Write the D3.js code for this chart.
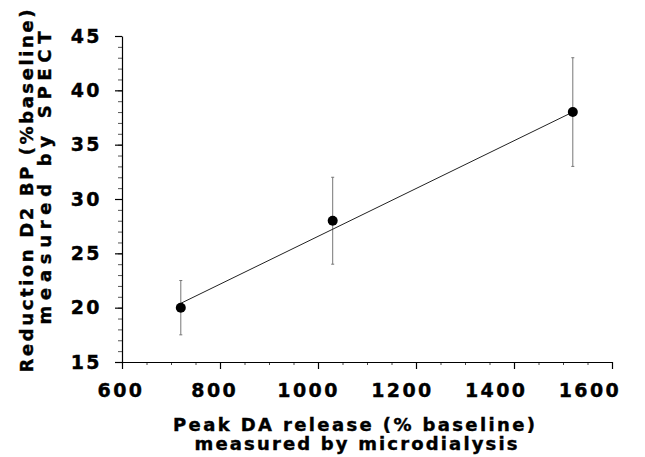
<!DOCTYPE html>
<html>
<head>
<meta charset="utf-8">
<script src="https://d3js.org/d3.v7.min.js"></script>
<style>
  body { margin: 0; background: #fff; }
  svg text { font-family: "DejaVu Sans", "Liberation Sans", Arial, sans-serif; font-weight: bold; fill: #000; stroke: #000; stroke-width: 0.4px; }
</style>
</head>
<body>
<svg id="chart" width="645" height="457"></svg>
<script>
// data
var daRelease = [720, 1030, 1520];
var bpReduction = [20, 28, 38];
var errHigh = [22.5, 32, 43];
var errLow = [17.5, 24, 33];
// regression line end points
var fitX = [720, 1520];
var fitY = [20.4, 38.0];

var xTicks = [600, 800, 1000, 1200, 1400, 1600];
var yTicks = [15, 20, 25, 30, 35, 40, 45];

var svg = d3.select('#chart');

var x = d3.scaleLinear().domain([600, 1600]).range([122, 612]);
var y = d3.scaleLinear().domain([15, 45]).range([362, 36]);
// tick labels in the scan sit a bit left of their ticks
var xLab = d3.scaleLinear().domain([600, 1600]).range([121, 590]);

// x axis: minor every 50, major every 200
svg.append('g')
    .attr('transform', 'translate(0,362)')
    .call(d3.axisBottom(x).tickValues(d3.range(600, 1601, 50)).tickSize(3).tickFormat(''))
    .call(g => g.select('.domain').remove())
    .call(g => g.selectAll('line').attr('stroke', '#444'));
svg.append('g')
    .attr('transform', 'translate(0,362)')
    .call(d3.axisBottom(x).tickValues(xTicks).tickSize(7).tickSizeOuter(0).tickFormat(''))
    .call(g => g.selectAll('line, path').attr('stroke', '#000').attr('stroke-width', 1.2));

svg.append('g').selectAll('text')
    .data(xTicks)
    .join('text')
    .attr('x', d => xLab(d))
    .attr('y', 397)
    .attr('text-anchor', 'middle')
    .style('font-size', '19px')
    .style('letter-spacing', '2.4px')
    .text(d => d);

// y axis: minor every 1, major every 5
svg.append('g')
    .attr('transform', 'translate(122,0)')
    .call(d3.axisLeft(y).tickValues(d3.range(15, 46, 1)).tickSize(4).tickFormat(''))
    .call(g => g.select('.domain').remove())
    .call(g => g.selectAll('line').attr('stroke', '#555'));
svg.append('g')
    .attr('transform', 'translate(122,0)')
    .call(d3.axisLeft(y).tickValues(yTicks).tickSize(7).tickSizeOuter(0).tickPadding(13))
    .call(g => g.selectAll('line, path').attr('stroke', '#000').attr('stroke-width', 1.2))
    .call(g => g.selectAll('text')
        .attr('fill', '#000')
        .style('font-size', '19px')
        .style('letter-spacing', '2.4px')
        .style('font-family', '"DejaVu Sans", sans-serif')
        .style('font-weight', 'bold'));

// error bars
var pts = daRelease.map((d, i) => ({x: d, y: bpReduction[i], hi: errHigh[i], lo: errLow[i]}));
var bars = svg.append('g').attr('stroke', '#777').attr('stroke-width', 1);
bars.selectAll('.stem')
    .data(pts)
    .join('line')
    .attr('x1', d => x(d.x)).attr('x2', d => x(d.x))
    .attr('y1', d => y(d.hi)).attr('y2', d => y(d.lo));
bars.selectAll('.caphi')
    .data(pts)
    .join('line')
    .attr('x1', d => x(d.x) - 1.5).attr('x2', d => x(d.x) + 1.5)
    .attr('y1', d => y(d.hi)).attr('y2', d => y(d.hi));
bars.selectAll('.caplo')
    .data(pts)
    .join('line')
    .attr('x1', d => x(d.x) - 1.5).attr('x2', d => x(d.x) + 1.5)
    .attr('y1', d => y(d.lo)).attr('y2', d => y(d.lo));

// fitted line
svg.append('path')
    .datum(fitX.map((d, i) => [d, fitY[i]]))
    .attr('fill', 'none')
    .attr('stroke', '#222')
    .attr('stroke-width', 1)
    .attr('d', d3.line().x(d => x(d[0])).y(d => y(d[1])));

// points
svg.append('g').selectAll('circle')
    .data(pts)
    .join('circle')
    .attr('cx', d => x(d.x))
    .attr('cy', d => y(d.y))
    .attr('r', 5)
    .attr('fill', '#000');

// axis titles
function title(tx, ty, rot, len, txt) {
    svg.append('text')
        .attr('transform', `translate(${tx},${ty}) rotate(${rot})`)
        .attr('text-anchor', 'middle')
        .attr('textLength', len)
        .attr('lengthAdjust', 'spacing')
        .style('font-size', '18px')
        .text(txt);
}
title(354, 431, 0, 362, 'Peak DA release (% baseline)');
title(356, 450, 0, 323, 'measured by microdialysis');
title(33, 191, -90, 363, 'Reduction D2 BP (%baseline)');
title(51, 178, -90, 293, 'measured by SPECT');
</script>
</body>
</html>
